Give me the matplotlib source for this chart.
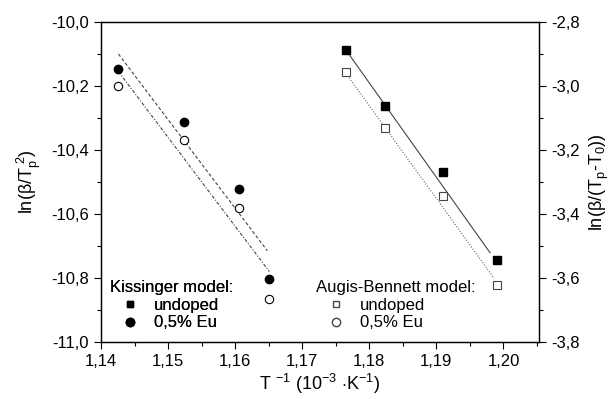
import numpy as np
import matplotlib.pyplot as plt
from matplotlib.lines import Line2D
from matplotlib.ticker import FuncFormatter, MultipleLocator

plt.rcParams['font.family'] = ['Liberation Sans', 'DejaVu Sans']
plt.rcParams['mathtext.fontset'] = 'custom'
plt.rcParams['mathtext.rm'] = 'Liberation Sans'
plt.rcParams['mathtext.it'] = 'Liberation Sans:italic'

# Kissinger data (left axis)
x_kis = [1.1425, 1.1523, 1.1606, 1.1651]
kis_undoped = [-10.147, -10.313, -10.522, -10.802]
kis_eu = [-10.199, -10.369, -10.582, -10.866]
# fitted lines (end points)
kis_fit_x_a = [1.1426, 1.1648]
kis_fit_y_a = [-10.100, -10.715]
kis_fit_x_b = [1.1426, 1.1651]
kis_fit_y_b = [-10.155, -10.780]

# Augis-Bennett data (right axis)
x_ab = [1.1765, 1.1824, 1.1910, 1.1991]
ab_undoped = [-2.888, -3.061, -3.270, -3.545]
ab_eu = [-2.956, -3.131, -3.344, -3.623]
ab_fit_x_a = [1.1767, 1.1980]
ab_fit_y_a = [-2.893, -3.521]
ab_fit_x_b = [1.1765, 1.1986]
ab_fit_y_b = [-2.960, -3.601]

comma = FuncFormatter(lambda v, p: ('%.2f' % v).replace('.', ','))
comma1 = FuncFormatter(lambda v, p: ('%.1f' % v).replace('.', ','))

fig = plt.figure(figsize=(6.11, 3.99), dpi=100)
ax = fig.add_axes([101/611, 57/399, 438/611, 320/399])
ax2 = ax.twinx()

# left: Kissinger
ax.plot(kis_fit_x_a, kis_fit_y_a, color='#444444', lw=0.8, ls=(0, (3, 2)))
ax.plot(kis_fit_x_b, kis_fit_y_b, color='#444444', lw=0.8, ls=(0, (3, 1.5, 1, 1.5)))
ax.plot(x_kis, kis_undoped, 'o', color='black', ms=6, ls='none')
ax.plot(x_kis, kis_eu, 'o', mfc='white', mec='black', mew=0.8, ms=6, ls='none')

# right: Augis-Bennett
ax2.plot(ab_fit_x_a, ab_fit_y_a, color='#444444', lw=0.8, ls='-')
ax2.plot(ab_fit_x_b, ab_fit_y_b, color='#666666', lw=0.8, ls=(0, (1, 1.5)))
ax2.plot(x_ab, ab_undoped, 's', color='black', ms=5.3, ls='none')
ax2.plot(x_ab, ab_eu, 's', mfc='white', mec='#444444', mew=0.8, ms=5.3, ls='none')

ax.set_xlim(1.14, 1.2053)
ax.set_ylim(-11.0, -10.0)
ax2.set_ylim(-3.8, -2.8)

ax.xaxis.set_major_locator(MultipleLocator(0.01))
ax.xaxis.set_minor_locator(MultipleLocator(0.005))
ax.yaxis.set_major_locator(MultipleLocator(0.2))
ax.yaxis.set_minor_locator(MultipleLocator(0.1))
ax2.yaxis.set_major_locator(MultipleLocator(0.2))
ax2.yaxis.set_minor_locator(MultipleLocator(0.1))
ax.xaxis.set_major_formatter(comma)
ax.yaxis.set_major_formatter(comma1)
ax2.yaxis.set_major_formatter(comma1)

for a in (ax, ax2):
    a.tick_params(which='major', direction='out', length=5, width=0.8, labelsize=12)
    a.tick_params(which='minor', direction='out', length=3, width=0.8)
    for s in a.spines.values():
        s.set_linewidth(0.9)

ax.set_xlabel(r'T $^{-1}$ (10$^{-3}$ $\cdot$K$^{-1}$)', fontsize=13, labelpad=2)
ax.set_ylabel(r'ln(β/T$_{\mathrm{p}}^{\ 2}$)', fontsize=13, labelpad=6)
ax2.set_ylabel(r'ln(β/(T$_{\mathrm{p}}$-T$_{0}$))', fontsize=13, labelpad=6)

h1 = [Line2D([], [], marker='s', color='black', ls='none', ms=5),
      Line2D([], [], marker='o', color='black', ls='none', ms=6)]
leg1 = ax.legend(h1, ['undoped', '0,5% Eu'], title='Kissinger model:',
                 loc='lower left', bbox_to_anchor=(-0.005, 0.0), frameon=False,
                 fontsize=12, title_fontsize=12, alignment='left',
                 handletextpad=0.3, handlelength=2.3, labelspacing=0.15,
                 borderaxespad=0.3)
ax.add_artist(leg1)

h2 = [Line2D([], [], marker='s', mfc='white', mec='#444444', ls='none', ms=5),
      Line2D([], [], marker='o', mfc='white', mec='#444444', ls='none', ms=6)]
leg2 = ax2.legend(h2, ['undoped', '0,5% Eu'], title='Augis-Bennett model:',
                  loc='lower left', bbox_to_anchor=(0.465, 0.0), frameon=False,
                  fontsize=12, title_fontsize=12, alignment='left',
                  handletextpad=0.3, handlelength=2.3, labelspacing=0.15,
                  borderaxespad=0.3)

fig.savefig('out.png', dpi=100)
